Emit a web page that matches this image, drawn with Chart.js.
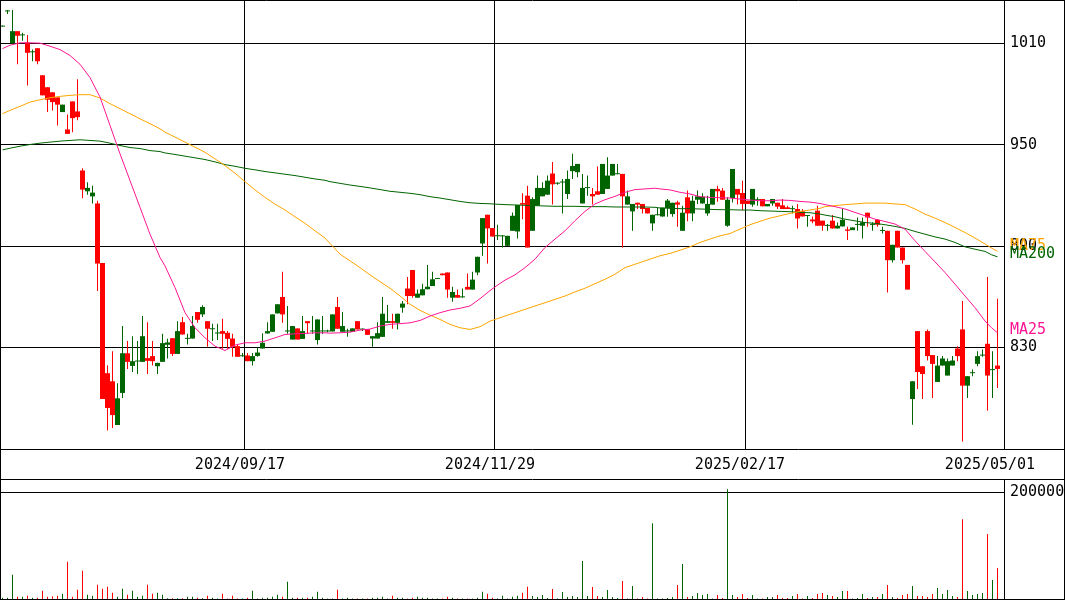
<!DOCTYPE html>
<html>
<head>
<meta charset="utf-8">
<script src="https://cdn.jsdelivr.net/npm/chart.js@4.4.1/dist/chart.umd.min.js"></script>
<style>
  html, body { margin: 0; padding: 0; background: #fff; }
  #wrap { position: relative; width: 1065px; height: 600px; overflow: hidden; }
  canvas { position: absolute; left: 0; display: block; }
  #price { top: 0; }
  #volume { top: 480px; }
</style>
</head>
<body>
<div id="wrap">
  <canvas id="price" width="1065" height="480"></canvas>
  <canvas id="volume" width="1065" height="120"></canvas>
</div>
<script>
// ---- axis labels -------------------------------------------------------
const tickIdx = [49, 99, 149, 199];
const tickLabels = ['2024/09/17', '2024/11/29', '2025/02/17', '2025/05/01'];
const priceTicks = [830, 890, 950, 1010];
const volumeTicks = [200000];

// ---- daily candles (oldest first) --------------------------------------
const open = [
  1020, 1029, 1010, 1017.3, 1014.8, 1010.6, 1004.8, 1007.2, 991.2, 984.1,
  981.1, 978.1, 969.4, 959.1, 975.7, 969.8, 934.8, 922.5, 919.5, 915.3,
  880.1, 814.8, 810, 784.1, 803.1, 826.6, 819.1, 821.7, 821.5, 823.7,
  824.9, 818.9, 821.5, 831.6, 835.5, 826.2, 845, 835.1, 835.3, 851,
  849.6, 845.6, 840.8, 838.3, 839.7, 838.7, 835.3, 830.8, 824.8, 825.3,
  821.9, 825, 829.4, 838.3, 839.3, 850.2, 859.9, 839.5, 834.7, 841.3,
  835.1, 845.6, 839.5, 834.4, 839.5, 839.5, 839.5, 854, 839.3, 839.5,
  839.3, 845.6, 840.6, 840.7, 835.3, 835.3, 836.3, 844.6, 845.6, 844.6,
  853.6, 864.9, 875.9, 859.5, 860.9, 864.5, 866.4, 870.6, 873.8, 874.4,
  859.5, 861.1, 859.7, 865.9, 864.3, 874.4, 891.6, 908.6, 900.7, 895.9,
  895.8, 890.2, 899.1, 898.7, 915.5, 919.9, 899.1, 914, 919.5, 920.5,
  933, 927, 927.7, 920.9, 934.4, 933.8, 915.3, 924.4, 920.9, 922.5,
  920.9, 923.9, 931.8, 932.6, 932.8, 914.6, 910.6, 915.7, 915, 912.6,
  903.5, 908.3, 907.6, 912.6, 909, 915.9, 899.1, 918.9, 909.4, 917.5,
  915.3, 909.4, 914.6, 923.9, 922.9, 902.1, 918.5, 923.9, 921.5, 916.9,
  914.6, 917.2, 917.9, 913.6, 915.3, 915.7, 914.2, 913, 911.9, 912,
  910.6, 907.9, 905.8, 911, 905.1, 902, 905.1, 900.5, 901.7, 899.9,
  899.5, 902.6, 902.1, 909.8, 902.6, 905.6, 899, 899.1, 881.7, 899.1,
  889.2, 878.9, 799.5, 839.7, 818.9, 839.7, 825.5, 809.6, 819.3, 813.4,
  819.3, 829.4, 840.7, 807.4, 814.8, 820.3, 825.2, 832.2, 816.6, 819.3
];
const high = [
  1020.3, 1029.8, 1029.8, 1017.3, 1016.3, 1015, 1006.4, 1007.2, 991.2, 984.1,
  981.1, 978.1, 973.8, 968, 975.7, 988.8, 936.1, 927.8, 925.8, 916.9,
  880.1, 819.5, 827.8, 808.8, 842.7, 833.8, 836.7, 833.8, 848.6, 845,
  833.8, 820.9, 838.1, 835.2, 835.5, 845.6, 848, 838.1, 848.6, 851,
  855, 845.6, 844, 844, 847, 839.7, 838.1, 831.8, 826.8, 826.8,
  826.8, 829.8, 838.5, 845, 849.6, 855.6, 874.8, 854.6, 842.7, 841.3,
  848.6, 845.6, 848.6, 846.6, 848.6, 840.5, 849.6, 859.9, 851, 841.1,
  841.3, 845.6, 841.3, 840.7, 836.7, 845, 859.9, 855.2, 850, 850,
  857.5, 871.8, 875.9, 864.3, 867.8, 878.9, 874.8, 870.9, 873.8, 874.4,
  865.9, 864.3, 864.9, 873.8, 874.8, 883.7, 906.6, 908.6, 900.7, 902.7,
  896.5, 896.1, 910, 914.4, 921.3, 925.8, 918.9, 931.8, 927.8, 931.8,
  939.9, 927.8, 929.8, 934.8, 944.7, 938.7, 932.8, 931.8, 924.5, 937.1,
  938.7, 942.7, 938.7, 938.7, 932.8, 922.9, 915, 915.7, 915, 912.6,
  908.6, 912.6, 912.8, 917.9, 915.7, 916.9, 914, 922.9, 919.9, 922.9,
  921.3, 919.9, 923.9, 925.8, 924.5, 918.9, 935.7, 923.9, 928.8, 916.9,
  923.9, 918.9, 917.9, 915, 917.9, 915.7, 917.9, 914, 914, 915,
  912, 908.2, 907.6, 914, 905.1, 903.1, 908.4, 904, 912, 901.5,
  901.1, 907, 907, 909.8, 904.1, 906, 901.5, 899.1, 890.8, 899.1,
  889.2, 878.9, 810, 839.7, 818.9, 840.7, 825.5, 824.9, 824.9, 823.5,
  824.9, 830.8, 857.5, 813, 817, 827.8, 828.8, 871.8, 827.8, 858.9
];
const low = [
  1020, 1027.4, 1010, 997.7, 1011.6, 985.2, 999.5, 997.7, 979.3, 969.4,
  970.4, 961.5, 969.4, 956.5, 957.5, 964.5, 918.3, 920.5, 915.3, 863.5,
  799.5, 780.9, 782.3, 784.1, 800.1, 817.3, 815.5, 814.3, 821.5, 814.3,
  819.3, 814.3, 821.5, 823.5, 824.9, 826.2, 837.7, 831.8, 835.3, 844.6,
  848, 830.4, 833.8, 834.4, 829.2, 829.2, 824.5, 824.5, 824.5, 821.9,
  819.3, 824.5, 829.4, 838.3, 839.3, 850.2, 844.6, 838.1, 834.7, 834.7,
  835.1, 838.1, 838.1, 831.8, 838, 839, 839.5, 841.1, 839.3, 836.3,
  839.3, 840.7, 839.7, 837.5, 830.4, 835.3, 836.3, 844.6, 841.1, 840.7,
  850.6, 855.6, 859.5, 859.5, 860.9, 864.5, 866.4, 870.6, 872.8, 859.5,
  857.1, 859.5, 859.5, 864.3, 864.3, 872.8, 884.3, 879.7, 895.7, 893.6,
  889.2, 890.2, 899.1, 894.6, 906, 889.2, 899.1, 914, 919.5, 920.5,
  914.6, 926.4, 909.4, 917.9, 929.8, 930.8, 915.3, 919.9, 914.6, 920.5,
  920.9, 923.9, 931.8, 932.6, 889.2, 914.6, 899.1, 912, 909.4, 909.4,
  899.1, 908.3, 907.4, 907.4, 907.4, 901.5, 899.1, 904.7, 904.7, 915,
  915.3, 908, 914.6, 916.3, 917.5, 901.5, 915.9, 914.6, 911.4, 915,
  913.4, 914, 913.6, 913.6, 914, 912, 912, 912, 909.4, 900.5,
  907.6, 901.5, 903.5, 902.1, 899.1, 899.1, 900.5, 900.5, 901.7, 893.6,
  899.5, 899.1, 894.6, 901.5, 899.1, 901.5, 897.5, 862.5, 880.3, 889.2,
  879.7, 864.3, 784.3, 805.5, 799.5, 822.3, 800.1, 809.6, 819.3, 813.4,
  819.3, 821.9, 774.4, 800.1, 813, 818.9, 824.5, 792.6, 800.1, 806
];
const close = [
  1020.3, 1029.6, 1017.3, 1014.6, 1015, 1004.5, 1005, 999.5, 979.3, 976.7,
  975.3, 973.8, 973.8, 956.5, 965.8, 966.4, 923.5, 924.5, 921.7, 879.7,
  799.5, 794.2, 790, 799.9, 826.6, 821.5, 821.9, 822, 836.7, 822.1,
  821.9, 820.9, 832.6, 833, 826.2, 839.7, 837.7, 835.4, 842.7, 846.4,
  854, 841.1, 841.1, 838.6, 838.1, 835.1, 830.4, 824.5, 825.1, 821.9,
  824.9, 827, 832.8, 839.7, 849.6, 855.6, 849.6, 839.8, 842.7, 834.7,
  839.7, 844.4, 839.8, 846.6, 839.8, 839.8, 849.6, 841.1, 842.7, 839.8,
  841.3, 840.7, 840.9, 837.5, 836.7, 838.5, 850, 845.6, 844.6, 850,
  856, 860.5, 860.5, 861.9, 864.5, 866, 870.4, 870.9, 872.8, 864.3,
  862.9, 859.5, 860, 864.3, 870.2, 883.7, 906.6, 900.5, 895.7, 896.2,
  896.1, 896.1, 908, 914.4, 914.6, 889.2, 917.9, 924.5, 924.5, 928.8,
  926.6, 927.3, 928, 929.8, 937.5, 938.7, 924.5, 924.7, 919.5, 920.5,
  938.7, 931.8, 938.7, 932.9, 919.5, 919.5, 915, 914.6, 912, 909.4,
  908.6, 908.6, 912.8, 917, 915.7, 914.6, 909.8, 909.4, 916.9, 919.5,
  919.3, 915, 923.9, 922.5, 917.5, 917.5, 935.7, 920.5, 915, 915,
  923.9, 917.5, 913.6, 915, 917.9, 913.4, 912, 912, 912.2, 906.4,
  907.6, 908.2, 904.7, 902.1, 902.1, 902.3, 900.5, 902.1, 905.6, 899.1,
  901.1, 902.9, 904.1, 907, 902.9, 902.7, 899.3, 881.7, 890.8, 889.2,
  881.7, 864.3, 810, 815.5, 814.3, 824.9, 820.3, 819.3, 823.5, 821.9,
  822.3, 824.9, 807.4, 813, 815.1, 824.9, 825.5, 813.4, 816.9, 817.3
];
const volume = [
  2500, 2500, 45500, 4400, 4400, 6200, 2500, 2500, 15600, 4400,
  5000, 6200, 10000, 69800, 4400, 17400, 53000, 8100, 6200, 26800,
  19300, 23000, 11800, 4400, 19300, 8100, 15600, 4400, 6200, 26800,
  10000, 11800, 8100, 1200, 1200, 1200, 1200, 4400, 4400, 2500,
  1200, 6200, 2500, 800, 10000, 800, 6200, 800, 800, 2500,
  15600, 800, 2500, 2500, 4400, 8100, 4400, 32400, 2500, 2500,
  2500, 2500, 4400, 13700, 2500, 800, 800, 17400, 800, 2500,
  800, 800, 800, 800, 2500, 2500, 4400, 800, 6200, 2500,
  2500, 800, 2500, 4400, 2500, 2500, 800, 800, 800, 4400,
  2500, 800, 800, 800, 800, 2500, 13700, 10000, 2500, 800,
  6200, 800, 4400, 6200, 11800, 23000, 5600, 3750, 7500, 1900,
  18750, 800, 13100, 3750, 5600, 3750, 71250, 5600, 22500, 5600,
  3750, 16900, 3750, 1900, 33750, 800, 24400, 800, 3750, 800,
  142500, 800, 800, 1900, 3750, 26250, 65600, 3750, 5600, 11250,
  7500, 9400, 800, 7500, 1900, 206250, 7500, 3750, 9400, 1900,
  7500, 800, 800, 3750, 3750, 7500, 1900, 1900, 5600, 9400,
  800, 5600, 1900, 9400, 11250, 7500, 5600, 3750, 15000, 15000,
  800, 1900, 9400, 1900, 3750, 3750, 9400, 26250, 3750, 1900,
  7500, 9400, 24400, 5600, 5600, 3750, 9400, 20600, 9400, 16900,
  5600, 3750, 150000, 15000, 7500, 9400, 11250, 121900, 35600, 58100
];

// ---- moving averages, sampled along the session index ------------------
const maPos = [
  0, 1.5, 3.5, 5.5, 7.5, 9.5, 11.5, 13.5, 15.5, 17.5, 19.5, 21.5, 23.5, 25.5, 27.5, 29.5, 31.5,
  32.5, 34.5, 36.5, 38.5, 40.5, 42.5, 44.5, 46.5, 48.5, 50.5, 52.5, 54.5, 56.5, 58.5, 60.5, 62.5, 64.5,
  65.5, 67.5, 69.5, 71.5, 73.5, 75.5, 77.5, 79.5, 81.5, 83.5, 85.5, 87.5, 89.5, 91.5, 93.5, 95.5, 97.5,
  98.5, 100.5, 102.5, 104.5, 106.5, 108.5, 110.5, 112.5, 114.5, 116.5, 118.5, 120.5, 122.5, 124.5, 126.5, 128.5, 130.5,
  131.5, 133.5, 135.5, 137.5, 139.5, 141.5, 143.5, 145.5, 147.5, 149.5, 151.5, 153.5, 155.5, 157.5, 159.5, 161.5, 163.5,
  164.5, 166.5, 168.5, 170.5, 172.5, 174.5, 176.5, 178.5, 180.5, 182.5, 184.5, 186.5, 188.5, 190.5, 192.5, 194.5, 196.5, 197.8, 199
];
const ma25 = [
  1007, 1009, 1010.4, 1010.4, 1010.2, 1008.4, 1006.4, 1002.9, 997.7, 989.8, 978.3, 961.5, 944.7, 928.8, 913, 897.1, 883.3,
  878.3, 865.5, 850.6, 841.7, 835.7, 830.8, 828.2, 831.4, 832.8, 832.8, 833.8, 835.7, 837.7, 838.1, 838.3, 838.7, 838.7,
  838.5, 838.7, 839.1, 840.3, 840.9, 842.7, 843.7, 844.1, 844.6, 846, 848.6, 850.6, 852.2, 853.2, 854.6, 858.9, 863.7,
  865.9, 869.9, 873, 877.3, 882.3, 889.2, 894.2, 899.1, 905.1, 910.6, 915, 917.5, 919.5, 921.9, 923.5, 923.9, 924.3,
  923.9, 923.3, 921.9, 920.9, 919.3, 918.9, 918.7, 918.5, 917.9, 917.3, 916.9, 916.9, 917.3, 917.1, 916.5, 916.1, 915.3,
  914.6, 913.4, 912, 910, 908, 906, 904.6, 903.1, 900.1, 893.2, 886.9, 880.7, 874.4, 867.5, 860.5, 853.6, 845.7, 841.7, 838.7
];
const ma75 = [
  968.4, 970.4, 972.8, 975.3, 976.7, 977.9, 978.7, 979.3, 979.7, 979.7, 977.7, 974.4, 971.4, 968.4, 965.4, 962.5, 959.5,
  957.5, 954.6, 951.6, 948.6, 945.6, 941.7, 937.7, 933.2, 928.2, 923.3, 918.9, 914.9, 911.4, 907.4, 903.5, 899.1, 894.8,
  891.6, 885.3, 881.3, 877.3, 873, 869, 865.1, 860.5, 855.6, 852, 849.2, 846.6, 843.7, 841.7, 840.7, 842.3, 845.6,
  846.6, 848.6, 850.6, 852.6, 854.6, 856.5, 858.5, 860.5, 862.9, 865.1, 867.8, 870.4, 873.4, 877.3, 879.3, 881.3, 883.3,
  884.3, 885.7, 887.6, 889.6, 892.2, 894.2, 896.1, 897.5, 900.1, 902.7, 904.7, 906.6, 908, 909.4, 910.6, 911.4, 912.4,
  913.4, 914, 914.6, 915, 915.5, 915.5, 915.5, 915, 914.6, 912, 909, 906.6, 904, 901.1, 898.1, 894.8, 891.3, 888.9, 886.9
];
const ma200 = [
  947, 948, 949.2, 950.2, 951, 951.6, 952.2, 952.6, 953, 952.6, 952.2, 951, 949.6, 948.4, 947.8, 946.6, 946,
  945.2, 944.3, 943.3, 942.3, 941.3, 939.9, 938.3, 937.3, 936.1, 935.2, 934.2, 933.4, 932.6, 931.8, 930.8, 929.8, 929,
  928.2, 927.2, 926.2, 925.4, 924.5, 923.5, 922.5, 921.9, 921.3, 920.5, 919.3, 918.5, 917.5, 916.5, 915.7, 915.3, 915.1,
  914.9, 914.6, 914.4, 914.2, 914, 913.8, 913.6, 913.6, 913.6, 913.4, 913.4, 913.4, 913.2, 913.2, 913.2, 913.2, 913,
  912.6, 912.4, 912.2, 912.2, 912, 911.8, 911.6, 911.6, 911.4, 911.4, 911, 910.8, 910.6, 910.4, 910, 909.8, 909,
  908.4, 907.4, 906, 905, 904, 903.5, 902.7, 901.7, 900.5, 898.7, 897.1, 895.5, 894.2, 892.2, 889.6, 888.2, 886.9, 884.9, 883.7
];

// ---- styling -----------------------------------------------------------
const UP = '#006400';
const DOWN = '#ff0000';
const C_MA25 = '#ff1493';
const C_MA75 = '#ffa500';
const C_MA200 = '#006400';
const FONT = '"DejaVu Sans Mono", "Liberation Mono", monospace';
const FONT_SIZE = 15;

Chart.defaults.font.family = FONT;
Chart.defaults.font.size = FONT_SIZE;
Chart.defaults.color = '#000';

const candleColor = i => (close[i] >= open[i] ? UP : DOWN);
const sessions = open.map((_, i) => i);
const xRange = { min: -0.5, max: 200.3 };

// Outline of the price panel and the date strip underneath it.
const priceFrame = {
  id: 'priceFrame',
  afterDraw(chart) {
    const { ctx, width, height, chartArea: a } = chart;
    ctx.save();
    ctx.strokeStyle = '#000';
    ctx.lineWidth = 1;
    ctx.beginPath();
    ctx.moveTo(0, 0.5); ctx.lineTo(width, 0.5);
    ctx.moveTo(0.5, 0); ctx.lineTo(0.5, height);
    ctx.moveTo(width - 0.5, 0); ctx.lineTo(width - 0.5, height);
    ctx.moveTo(a.right + 0.5, 0); ctx.lineTo(a.right + 0.5, a.bottom);
    ctx.moveTo(0, a.bottom + 0.5); ctx.lineTo(width, a.bottom + 0.5);
    ctx.moveTo(0, height - 0.5); ctx.lineTo(width, height - 0.5);
    ctx.stroke();
    ctx.restore();
  }
};

// Names of the moving averages, written next to where each line ends.
const maLabels = {
  id: 'maLabels',
  afterDraw(chart) {
    const { ctx, chartArea: a } = chart;
    const ys = chart.scales.y;
    const items = [
      { text: 'MA75', color: C_MA75, v: ma75[ma75.length - 1] },
      { text: 'MA200', color: C_MA200, v: ma200[ma200.length - 1] },
      { text: 'MA25', color: C_MA25, v: ma25[ma25.length - 1] }
    ].map(o => ({ ...o, py: ys.getPixelForValue(o.v) - 2.5 }))
     .sort((p, q) => p.py - q.py);
    for (let k = items.length - 2; k >= 0; k--) {
      if (items[k + 1].py - items[k].py < 8) items[k].py = items[k + 1].py - 8;
    }
    ctx.save();
    ctx.font = FONT_SIZE + 'px ' + FONT;
    ctx.textAlign = 'left';
    ctx.textBaseline = 'middle';
    items.forEach(o => {
      ctx.fillStyle = o.color;
      ctx.fillText(o.text, a.right + 6, o.py);
    });
    ctx.restore();
  }
};

const maLine = (label, values, color) => ({
  type: 'line',
  label,
  data: maPos.map((x, k) => ({ x, y: values[k] })),
  borderColor: color,
  borderWidth: 1,
  pointRadius: 0,
  tension: 0,
  fill: false,
  order: 0
});

new Chart(document.getElementById('price'), {
  type: 'bar',
  data: {
    datasets: [
      maLine('MA25', ma25, C_MA25),
      maLine('MA75', ma75, C_MA75),
      maLine('MA200', ma200, C_MA200),
      {
        label: 'body',
        data: sessions.map(i => ({ x: i, y: [open[i], close[i]] })),
        backgroundColor: c => candleColor(c.dataIndex),
        barThickness: 5,
        minBarLength: 1,
        inflateAmount: 0,
        borderWidth: 0,
        grouped: false,
        order: 1
      },
      {
        label: 'wick',
        data: sessions.map(i => ({ x: i, y: [low[i], high[i]] })),
        backgroundColor: c => candleColor(c.dataIndex),
        barThickness: 1,
        minBarLength: 1,
        inflateAmount: 0,
        borderWidth: 0,
        grouped: false,
        order: 2
      }
    ]
  },
  options: {
    responsive: false,
    animation: false,
    devicePixelRatio: 1,
    events: [],
    layout: { padding: 0 },
    plugins: { legend: { display: false }, tooltip: { enabled: false } },
    scales: {
      x: {
        type: 'linear',
        position: 'bottom',
        min: xRange.min,
        max: xRange.max,
        offset: false,
        afterBuildTicks: s => { s.ticks = tickIdx.map(v => ({ value: v - 0.5 })); },
        afterFit: s => { s.height = 31; s.paddingLeft = 0; s.paddingRight = 0; },
        ticks: {
          autoSkip: false,
          maxRotation: 0,
          minRotation: 0,
          padding: 7,
          labelOffset: -5,
          color: '#000',
          callback: (v, k) => tickLabels[k]
        },
        grid: {
          color: c => (c.index === tickIdx.length - 1 ? 'rgba(0,0,0,0)' : '#000'),
          lineWidth: 1,
          drawTicks: false,
          offset: false
        },
        border: { display: false }
      },
      y: {
        position: 'right',
        min: 769.9,
        max: 1035.76,
        afterBuildTicks: s => { s.ticks = priceTicks.map(v => ({ value: v })); },
        afterFit: s => { s.width = 61; s.paddingTop = 0; s.paddingBottom = 0; },
        ticks: { padding: 6, color: '#000', callback: v => String(v) },
        grid: { color: '#000', lineWidth: 1, drawTicks: false },
        border: { display: false }
      }
    }
  },
  plugins: [priceFrame, maLabels]
});

// Outline of the volume panel.
const volumeFrame = {
  id: 'volumeFrame',
  afterDraw(chart) {
    const { ctx, width, height, chartArea: a } = chart;
    ctx.save();
    ctx.strokeStyle = '#000';
    ctx.lineWidth = 1;
    ctx.beginPath();
    ctx.moveTo(0.5, 0); ctx.lineTo(0.5, height);
    ctx.moveTo(width - 0.5, 0); ctx.lineTo(width - 0.5, height);
    ctx.moveTo(a.right + 0.5, 0); ctx.lineTo(a.right + 0.5, height);
    ctx.moveTo(0, a.bottom + 0.5); ctx.lineTo(width, a.bottom + 0.5);
    ctx.stroke();
    ctx.restore();
  }
};

new Chart(document.getElementById('volume'), {
  type: 'bar',
  data: {
    datasets: [{
      label: 'volume',
      data: sessions.map(i => ({ x: i, y: volume[i] })),
      backgroundColor: c => candleColor(c.dataIndex),
      barThickness: 1,
      inflateAmount: 0,
      borderWidth: 0
    }]
  },
  options: {
    responsive: false,
    animation: false,
    devicePixelRatio: 1,
    events: [],
    layout: { padding: { top: 0, left: 0, right: 0, bottom: 1 } },
    plugins: { legend: { display: false }, tooltip: { enabled: false } },
    scales: {
      x: { type: 'linear', min: xRange.min, max: xRange.max, offset: false, display: false },
      y: {
        position: 'right',
        min: 0,
        max: 223500,
        afterBuildTicks: s => { s.ticks = volumeTicks.map(v => ({ value: v })); },
        afterFit: s => { s.width = 61; s.paddingTop = 0; s.paddingBottom = 0; },
        ticks: { padding: 6, color: '#000', callback: v => String(v) },
        grid: { color: '#000', lineWidth: 1, drawTicks: false },
        border: { display: false }
      }
    }
  },
  plugins: [volumeFrame]
});
</script>
</body>
</html>
